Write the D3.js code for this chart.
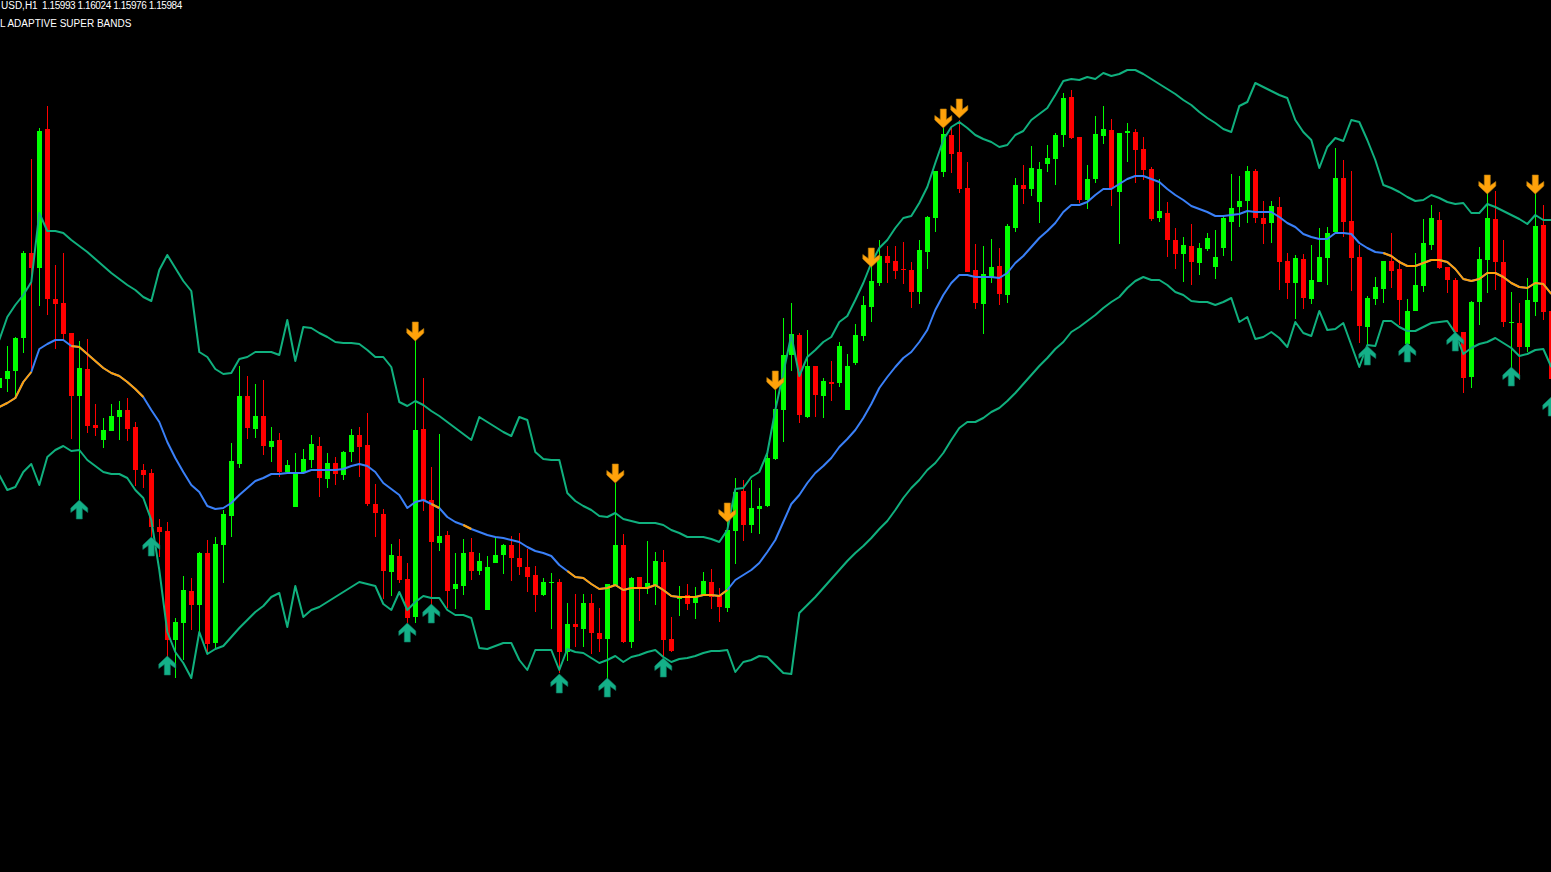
<!DOCTYPE html>
<html><head><meta charset="utf-8">
<script src="https://cdn.jsdelivr.net/npm/d3@7"></script>
<style>html,body{margin:0;padding:0;background:#000;overflow:hidden}svg{display:block}</style>
</head><body><div id="chart"></div>
<script>
// All price values are chart points counted downward from the top of the price window.
const symbolText = "USD,H1";
const quoteText = "1.15993 1.16024 1.15976 1.15984";
const indicatorText = "L ADAPTIVE SUPER BANDS";

// open, high, low, close per hourly bar (smaller = higher price)
const ohlc = [
[388,372,392,378],[379,346,392,371],[371,337,399,338],[338,251,353,253],[253,159,370,268],[268,128,306,131],[129,106,315,299],[299,265,349,304],[303,253,340,334],[333,333,439,396],
[396,341,500,368],[369,339,433,426],[425,404,436,428],[440,418,448,430],[431,404,431,416],[417,401,440,410],[410,398,441,429],[427,422,486,470],[470,464,488,475],[473,469,537,527],
[527,519,557,532],[531,522,657,640],[640,618,678,622],[623,576,660,590],[591,578,630,605],[605,552,634,553],[553,540,653,644],[643,537,648,544],[545,510,583,514],[516,443,537,461],
[464,366,468,396],[396,376,439,428],[429,384,438,416],[416,380,455,446],[447,427,462,441],[440,433,477,472],[472,460,472,465],[507,453,507,473],[473,449,473,459],[460,435,468,444],
[446,437,497,478],[479,453,488,463],[463,457,485,474],[475,451,480,452],[452,429,462,435],[435,427,477,447],[445,413,506,504],[504,484,537,513],[514,509,599,571],[572,544,596,555],
[556,539,583,580],[579,563,623,618],[617,340,623,430],[429,378,511,501],[500,467,605,542],[543,434,551,536],[535,531,608,591],[589,553,609,584],[586,539,595,553],[552,538,580,571],
[571,553,575,561],[610,556,610,567],[563,538,563,555],[555,544,574,545],[545,536,581,558],[558,533,575,567],[567,549,592,577],[575,566,612,595],[595,578,596,582],[583,573,629,582],
[582,579,673,652],[652,603,661,624],[624,594,647,627],[629,594,647,603],[603,594,654,633],[633,608,652,639],[639,584,680,584],[586,483,586,545],[545,534,643,642],[642,577,648,578],
[577,577,621,587],[588,541,594,583],[585,552,605,561],[562,550,658,640],[639,617,652,651],[599,586,616,596],[595,584,610,604],[603,587,619,596],[596,572,596,581],[582,569,609,597],
[596,588,622,607],[608,522,612,530],[531,478,564,492],[491,480,541,525],[525,480,533,508],[509,488,534,506],[506,450,507,458],[459,390,460,409],[410,318,442,355],[355,303,371,334],
[335,333,423,415],[417,330,418,366],[366,366,417,395],[396,378,418,381],[382,361,401,384],[383,342,387,346],[410,354,410,366],[363,324,365,335],[336,296,341,305],[307,265,322,281],
[283,240,286,256],[256,246,283,263],[261,246,279,271],[269,242,284,270],[270,262,308,292],[292,240,304,250],[252,216,269,217],[218,171,232,171],[172,128,177,134],[135,128,173,154],
[152,120,193,189],[188,162,272,272],[270,244,309,303],[304,246,334,274],[277,239,283,267],[266,248,305,294],[295,224,303,226],[228,178,232,185],[185,165,204,189],[189,146,196,168],
[202,162,223,169],[164,145,172,158],[159,133,185,135],[135,93,147,98],[97,90,139,138],[137,137,203,200],[200,165,209,179],[179,116,183,134],[136,106,144,129],[130,119,206,188],
[192,133,244,133],[133,123,162,131],[132,129,183,150],[149,137,180,170],[169,167,221,219],[218,179,222,211],[213,202,257,240],[240,228,269,254],[254,237,282,245],[246,224,285,262],
[263,243,275,248],[249,233,251,238],[267,230,279,257],[248,216,256,218],[222,174,261,208],[207,176,227,201],[201,166,223,171],[171,169,223,218],[218,201,244,224],[223,201,243,206],
[207,197,290,262],[261,253,299,283],[283,255,319,258],[259,254,309,298],[299,245,304,280],[282,228,282,257],[258,227,285,233],[232,148,232,178],[178,160,237,222],[221,171,291,258],
[257,245,343,326],[327,296,345,298],[299,277,305,287],[289,261,303,261],[261,233,288,271],[269,260,325,300],[344,299,345,311],[311,253,311,285],[286,219,292,243],[245,205,250,218],
[220,212,269,268],[267,267,293,280],[280,278,332,332],[332,332,393,378],[377,301,388,302],[302,247,325,259],[260,193,293,218],[219,191,290,262],[262,240,327,322],[323,292,370,322],
[323,303,380,347],[347,278,352,300],[302,193,316,226],[225,205,320,312],[311,311,385,379]
];

const upperBand = [
340,317,305,295,282,213,231,231,233,240,
246,252,259,266,273,279,285,290,297,301,
270,255,268,281,291,352,357,369,374,373,
359,357,352,352,352,355,320,361,327,328,
333,337,342,343,343,344,350,357,357,367,
402,406,401,405,411,416,422,428,434,440,
417,422,427,432,436,417,420,452,459,460,
460,493,501,506,510,516,517,513,519,521,
523,523,523,525,530,533,537,537,537,539,
542,530,489,488,477,472,453,410,373,335,
376,357,350,342,337,322,316,300,283,263,
248,240,228,218,216,203,187,163,140,127,
122,128,135,139,142,147,145,135,131,120,
114,108,95,81,79,80,77,79,73,76,
74,70,70,74,79,84,89,94,100,105,
112,118,123,129,132,106,102,83,87,91,
95,98,120,132,140,168,147,138,141,120,
122,140,160,185,188,192,197,201,200,195,
198,202,204,203,213,213,204,207,211,215,
219,224,215,220,220];

const middleBand = [
407,403,398,382,372,349,344,340,340,346,
347,354,361,368,373,376,382,389,397,410,
422,442,458,472,485,492,506,509,508,503,
495,488,481,478,474,474,473,473,473,470,
470,470,470,469,466,464,466,472,483,489,
495,508,502,500,504,508,517,522,525,529,
532,535,537,538,540,542,547,551,553,556,
565,571,577,578,584,589,588,585,590,588,
588,588,585,590,596,597,597,597,595,595,
596,590,580,575,570,563,552,540,522,504,
495,483,473,466,458,447,439,430,418,404,
388,377,367,358,352,342,330,310,295,283,
275,275,277,277,277,278,273,263,256,247,
238,231,223,212,205,205,202,195,189,189,
184,179,176,176,179,182,189,195,200,206,
209,212,216,216,215,214,211,212,212,212,
217,223,227,234,237,239,239,233,233,234,
243,248,252,253,256,262,266,266,263,260,
260,262,269,279,281,279,273,273,277,283,
287,288,283,284,294];

const lowerBand = [
475,490,487,472,464,485,457,450,446,451,
450,460,466,472,474,474,478,490,498,520,
570,632,652,663,678,632,654,649,646,637,
628,620,612,606,597,593,627,586,617,610,
607,602,597,592,587,582,584,586,604,610,
592,610,602,596,598,598,610,615,615,618,
648,649,646,643,643,660,670,650,650,650,
670,649,652,653,658,663,660,656,662,657,
655,652,650,657,662,659,658,656,653,651,
651,650,672,662,660,656,657,665,673,674,
613,605,597,588,579,570,561,553,546,538,
529,521,510,498,488,480,470,463,453,440,
428,422,422,418,412,408,401,393,384,375,
366,358,349,342,332,327,321,315,308,302,
297,288,281,277,280,280,285,292,295,301,
302,302,305,302,298,322,317,339,337,332,
338,347,322,333,336,311,330,329,323,345,
367,345,346,321,321,327,331,331,327,323,
322,321,333,354,348,344,342,338,343,348,
356,354,350,349,367];

// first and last bar of each falling (orange) stretch of the middle band
const fallingSpans = [[0,4],[9,18],[54,55],[58,59],[71,91],[173,194]];

const sellBars = [52,77,91,97,109,118,120,186,192];
const sellLevels = [341,483,522,390,267,128,118,194,194];
const buyBars = [10,19,21,51,54,70,76,83,171,176,182,189,194];
const buyLevels = [500,537,656,623,604,674,678,658,346,343,332,367,397];

const W = 1551, H = 872;
const colors = {up:"#00ff00", down:"#ff0000", band:"#10b07e", rising:"#3a80f8", falling:"#ffa00a",
  buy:"#14b088", buyEdge:"#0c7a62", sell:"#ffa20a", sellEdge:"#b87c0c", text:"#ffffff"};

const x = d3.scaleLinear().domain([0, 194]).range([-1, 1551]);
const y = d3.scaleLinear().domain([0, H]).range([0, H]);

const svg = d3.select("#chart").append("svg").attr("width", W).attr("height", H)
  .style("background", "#000");

// candles
const candles = svg.append("g").attr("shape-rendering", "crispEdges");
const bar = candles.selectAll("g").data(ohlc).join("g")
  .attr("fill", d => d[3] <= d[0] ? colors.up : colors.down);
bar.append("rect")
  .attr("x", (d,i) => x(i))
  .attr("width", 1)
  .attr("y", d => y(d[1]))
  .attr("height", d => y(d[2]) - y(d[1]));
bar.append("rect")
  .attr("x", (d,i) => x(i) - 2)
  .attr("width", 5)
  .attr("y", d => y(Math.min(d[0], d[3])))
  .attr("height", d => Math.max(1, Math.abs(y(d[3]) - y(d[0]))));

// bands
const line = d3.line().x(d => x(d[0]) + 0.3).y(d => y(d[1]));
const pts = a => a.map((v,i) => [i,v]);
const bands = svg.append("g").attr("fill", "none").attr("stroke-linejoin", "round");
[upperBand, lowerBand].forEach(a =>
  bands.append("path").attr("d", line(pts(a))).attr("stroke", colors.band).attr("stroke-width", 2));

// middle band in two colours
const allMid = pts(middleBand);
bands.append("path").attr("d", line(allMid)).attr("stroke", colors.rising).attr("stroke-width", 2);
fallingSpans.forEach(([a,b]) =>
  bands.append("path").attr("d", line(allMid.slice(a, b + 1))).attr("stroke", colors.falling).attr("stroke-width", 2));

// arrows (tip at origin, pointing up)
const arrowShape = [[0,0],[8.5,8],[8.5,12.5],[3,8.5],[3,19],[-3,19],[-3,8.5],[-8.5,12.5],[-8.5,8]];
const arrow = d3.line().curve(d3.curveLinearClosed);
const arrows = svg.append("g");
arrows.selectAll("path.buy").data(buyBars).join("path").attr("class","buy")
  .attr("d", arrow(arrowShape))
  .attr("transform", (d,i) => `translate(${x(d) + 0.3},${y(buyLevels[i])})`)
  .attr("fill", colors.buy).attr("stroke", colors.buyEdge).attr("stroke-width", 0.6);
arrows.selectAll("path.sell").data(sellBars).join("path").attr("class","sell")
  .attr("d", arrow(arrowShape))
  .attr("transform", (d,i) => `translate(${x(d) + 0.3},${y(sellLevels[i])}) scale(1,-1)`)
  .attr("fill", colors.sell).attr("stroke", colors.sellEdge).attr("stroke-width", 0.6);

// header text
const txt = svg.append("g").attr("fill", colors.text)
  .style("font-family", "'Liberation Sans', Arial, sans-serif").style("font-size", "10px");
txt.append("text").attr("x", 1).attr("y", 9).text(symbolText);
txt.append("text").attr("x", 42).attr("y", 9).style("letter-spacing", "-0.42px").text(quoteText);
txt.append("text").attr("x", 0).attr("y", 27).text(indicatorText);
</script></body></html>
